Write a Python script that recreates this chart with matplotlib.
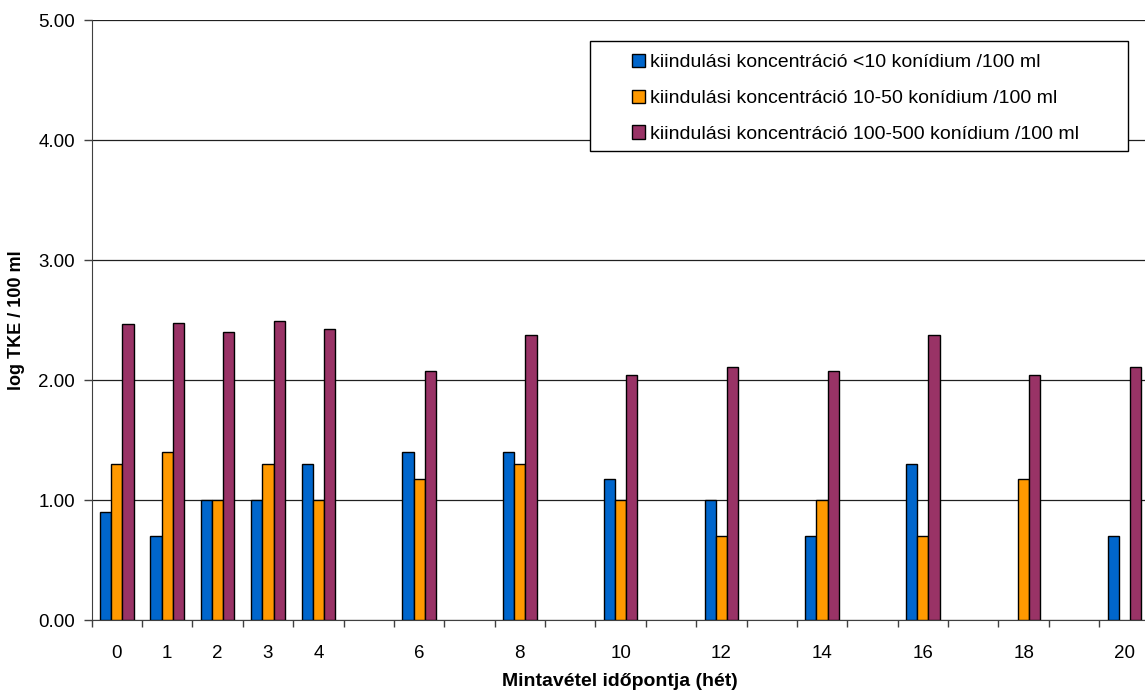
import numpy as np
import matplotlib
matplotlib.use("Agg")
import matplotlib.pyplot as plt
from matplotlib.patches import Rectangle

plt.rcParams['font.family'] = ['Liberation Sans', 'DejaVu Sans']

# Sampling weeks (one category per week, odd weeks after 4 carry no samples)
weeks = list(range(21))
week_labels = ["0", "1", "2", "3", "4", "", "6", "", "8", "", "10", "", "12", "",
               "14", "", "16", "", "18", "", "20"]

nan = np.nan
# log TKE / 100 ml for the three starting concentrations
low_conc = [0.90, 0.70, 1.00, 1.00, 1.30, nan, 1.40, nan, 1.40, nan, 1.18, nan,
            1.00, nan, 0.70, nan, 1.30, nan, nan, nan, 0.70]
mid_conc = [1.30, 1.40, 1.00, 1.30, 1.00, nan, 1.18, nan, 1.30, nan, 1.00, nan,
            0.70, nan, 1.00, nan, 0.70, nan, 1.18, nan, nan]
high_conc = [2.47, 2.48, 2.40, 2.49, 2.43, nan, 2.08, nan, 2.38, nan, 2.04, nan,
             2.11, nan, 2.08, nan, 2.38, nan, 2.04, nan, 2.11]

series_names = [
    "kiindulási koncentráció <10 konídium /100 ml",
    "kiindulási koncentráció 10-50 konídium /100 ml",
    "kiindulási koncentráció 100-500 konídium /100 ml",
]
series_colors = ["#0066CC", "#FF9900", "#993366"]

W, H = 1145, 696
fig = plt.figure(figsize=(W / 100, H / 100), dpi=100)
ax = fig.add_axes([91.7 / W, (H - 620.3) / H, (1149.5 - 91.7) / W, 600.0 / H])

bar_w = 1 / 4.5
x = np.arange(len(weeks))
handles = []
for i, (vals, col, name) in enumerate(zip([low_conc, mid_conc, high_conc],
                                          series_colors, series_names)):
    v = np.asarray(vals, dtype=float)
    m = ~np.isnan(v)
    b = ax.bar(x[m] + (i - 1) * bar_w, v[m], width=bar_w, color=col,
               edgecolor="black", linewidth=1.0, zorder=3, label=name)
    handles.append(b)

ax.set_xlim(-0.5, len(weeks) - 0.5)
ax.set_ylim(0, 5)
ax.set_yticks([0, 1, 2, 3, 4, 5])
ax.set_yticklabels([f"{t:.2f}" for t in [0, 1, 2, 3, 4, 5]])
ax.yaxis.grid(True, color="#202020", linewidth=0.9, zorder=0)
ax.set_axisbelow(True)

ax.set_xticks(x)
ax.set_xticklabels(week_labels)
ax.set_xticks(np.arange(-0.5, len(weeks)), minor=True)
ax.tick_params(axis="x", which="major", length=0, pad=18, labelsize=13.5)
ax.tick_params(axis="x", which="minor", length=5, width=1, color="#404040")
ax.tick_params(axis="y", length=6, width=1, color="#404040", labelsize=13.5, pad=6)

for s in ["top", "right"]:
    ax.spines[s].set_visible(False)
ax.spines["left"].set_color("#404040")
ax.spines["bottom"].set_color("#404040")

fig.text(620 / W, 1 - 681 / H, "Mintavétel időpontja (hét)", ha="center",
         va="center", fontsize=14, fontweight="bold")
fig.text(17 / W, 1 - 320 / H, "log TKE / 100 ml", ha="center", va="center",
         rotation=90, fontsize=13, fontweight="bold")

# Legend box
box = Rectangle((590 / W, 1 - 151 / H), (1128 - 590) / W, (151 - 41) / H,
                transform=fig.transFigure, facecolor="white", edgecolor="black",
                linewidth=1.0, zorder=4)
fig.add_artist(box)
leg = fig.legend(handles=handles, loc="upper left",
                 bbox_to_anchor=(632 / W, 1 - 54 / H), bbox_transform=fig.transFigure,
                 frameon=False, fontsize=14, handlelength=0.67, handleheight=0.67,
                 handletextpad=0.25, labelspacing=0.94, borderaxespad=0, borderpad=0)
leg.set_zorder(5)

fig.savefig("out.png", dpi=100)
